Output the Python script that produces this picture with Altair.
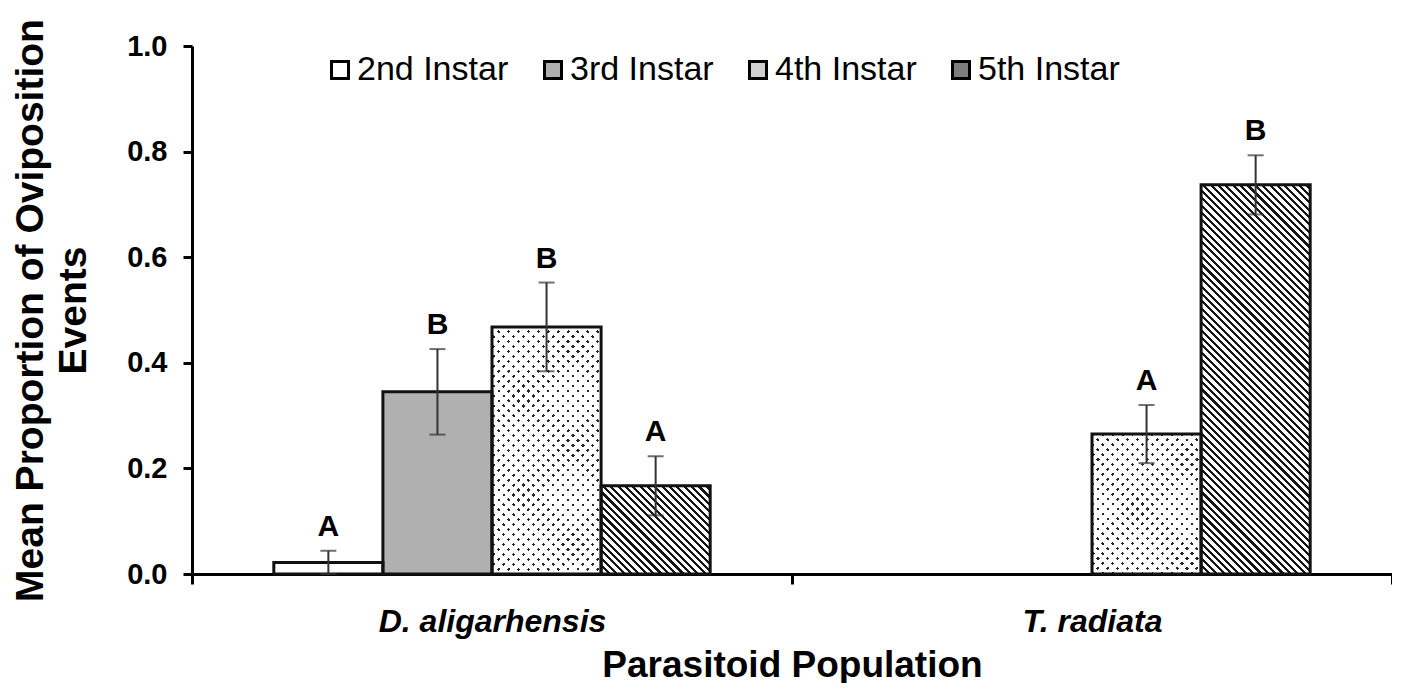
import math
import altair as alt
import pandas as pd

# ---------------- data ----------------
populations = ["D. aligarhensis", "T. radiata"]
instars = ["2nd Instar", "3rd Instar", "4th Instar", "5th Instar"]

bar_population = ["D. aligarhensis", "D. aligarhensis", "D. aligarhensis", "D. aligarhensis",
                  "T. radiata", "T. radiata"]
bar_instar = ["2nd Instar", "3rd Instar", "4th Instar", "5th Instar", "4th Instar", "5th Instar"]
bar_mean = [0.022, 0.345, 0.468, 0.167, 0.265, 0.737]
bar_se = [0.022, 0.081, 0.084, 0.056, 0.055, 0.056]
bar_letter = ["A", "B", "B", "A", "A", "B"]

df = pd.DataFrame({
    "population": bar_population,
    "instar": bar_instar,
    "mean": bar_mean,
    "se": bar_se,
    "letter": bar_letter,
})
df["lo"] = (df["mean"] - df["se"]).clip(lower=0)
df["hi"] = df["mean"] + df["se"]

# ---------------- layout / style ----------------
FONT = "Liberation Sans, Arial, Helvetica, sans-serif"
W, H = 1200, 528
OUTER = 0.75                      # xOffset outer padding (gap between groups)
BAR_W = (W / len(populations)) / (len(instars) + 2 * OUTER)

legend_fill = ["#ffffff", "#b0b0b0", "#cfcfcf", "#7d7d7d"]


def stripe_stops(length, period, dark_frac, dark, light):
    stops = []
    pos = 0.0
    while pos < length - 1e-9:
        d_end = min(pos + dark_frac * period, length)
        p_end = min(pos + period, length)
        stops += [(pos / length, dark), (d_end / length, dark),
                  (d_end / length, light), (p_end / length, light)]
        pos += period
    return [alt.GradientStop(color=c, offset=round(min(o, 1.0), 6)) for o, c in stops]


def diag_gradient(w, h, direction, period, dark_frac, dark, light):
    t = (w + h) / (w * w + h * h)
    length = (w + h) / math.sqrt(2)
    stops = stripe_stops(length, period, dark_frac, dark, light)
    if direction == "back":      # lines like "\"
        x1, y1, x2, y2 = 0, 1, t * w, 1 - t * h
    else:                        # lines like "/"
        x1, y1, x2, y2 = 0, 0, t * w, t * h
    return alt.LinearGradient(gradient="linear", stops=stops,
                              x1=x1, y1=y1, x2=round(x2, 6), y2=round(y2, 6))


x_enc = alt.X(
    "population:N",
    sort=populations,
    scale=alt.Scale(domain=populations, paddingInner=0, paddingOuter=0),
    axis=alt.Axis(
        tickBand="extent", labelAngle=0, labelLimit=0,
        domainColor="black", domainWidth=3,
        tickColor="black", tickWidth=3, tickSize=10,
        labelFont=FONT, labelFontSize=32, labelFontStyle="italic",
        labelFontWeight="bold", labelColor="black", labelPadding=22,
        title="Parasitoid Population", titleFont=FONT, titleFontSize=37,
        titleFontWeight="bold", titleColor="black",
        titleY=102, titleBaseline="alphabetic",
    ),
)
xo_enc = alt.XOffset(
    "instar:N",
    scale=alt.Scale(domain=instars, paddingInner=0, paddingOuter=OUTER),
)
y_scale = alt.Scale(domain=[0, 1])
y_axis = alt.Axis(
    values=[0, 0.2, 0.4, 0.6, 0.8, 1.0], format=".1f", grid=False,
    domainColor="black", domainWidth=3,
    tickColor="black", tickWidth=3, tickSize=9,
    labelFont=FONT, labelFontSize=29, labelFontWeight="bold",
    labelColor="black", labelPadding=16,
    title=["Mean Proportion of Oviposition", "Events"],
    titleFont=FONT, titleFontSize=39, titleFontWeight="bold", titleColor="black",
    titleAngle=270, titleX=-150, titleY=H / 2, titleBaseline="alphabetic",
    titleAlign="center", titleLineHeight=43,
)

base = alt.Chart(df).encode(x=x_enc, xOffset=xo_enc)

bars = base.mark_bar().encode(
    y=alt.Y("mean:Q", scale=y_scale, axis=y_axis),
    color=alt.Color(
        "instar:N",
        scale=alt.Scale(domain=instars, range=legend_fill),
        legend=alt.Legend(
            title=None, orient="none", legendX=131, legendY=7,
            direction="horizontal", columns=4, symbolType="square",
            symbolSize=289, symbolStrokeColor="black", symbolStrokeWidth=3,
            symbolOpacity=1,
            labelFont=FONT, labelFontSize=34, labelColor="black",
            labelOffset=0, columnPadding=27, padding=0,
        ),
    ),
)

layers = [bars]


def one_bar(pop, inst):
    return base.transform_filter(
        f"datum.population === '{pop}' && datum.instar === '{inst}'"
    )


for pop, inst, m in zip(bar_population, bar_instar, bar_mean):
    h = m * H
    if inst == "4th Instar":
        # dotted: dark base + two diagonal white masks leave a lattice of dots
        layers.append(one_bar(pop, inst).mark_bar(fill="#262626").encode(y="mean:Q"))
        for d in ("back", "fwd"):
            g = diag_gradient(BAR_W, h, d, 7.0, 0.33,
                              "rgba(255,255,255,0)", "#ffffff")
            layers.append(one_bar(pop, inst).mark_bar(fill=g).encode(y="mean:Q"))
    elif inst == "5th Instar":
        g = diag_gradient(BAR_W, h, "back", 5.2, 0.42, "#151515", "#ffffff")
        layers.append(one_bar(pop, inst).mark_bar(fill=g).encode(y="mean:Q"))

outline = base.mark_bar(fillOpacity=0, stroke="#111111", strokeWidth=3).encode(y="mean:Q")
err = base.mark_rule(color="#333333", strokeWidth=2).encode(y="lo:Q", y2="hi:Q")
cap_hi = base.mark_tick(color="#333333", thickness=2, size=16).encode(y="hi:Q")
cap_lo = base.mark_tick(color="#333333", thickness=2, size=16).encode(y="lo:Q")
letters = base.mark_text(
    font=FONT, fontSize=30, fontWeight="bold", color="black",
    baseline="alphabetic", dy=-15,
).encode(y="hi:Q", text="letter:N")

layers += [outline, err, cap_hi, cap_lo, letters]

chart = alt.layer(*layers).properties(
    width=W, height=H,
    padding={"left": 184, "top": 38, "right": 0, "bottom": 109},
    autosize=alt.AutoSizeParams(type="none"),
    background="white",
).configure_view(stroke=None)

chart.save("out.html", embed_options={"renderer": "svg", "actions": False})
